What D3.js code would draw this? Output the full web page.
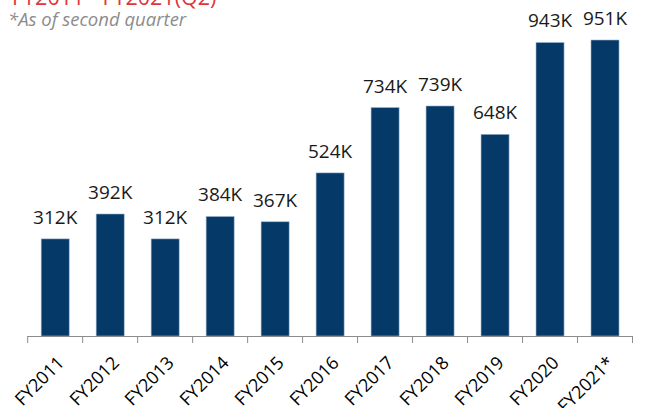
<!DOCTYPE html>
<html>
<head>
<meta charset="utf-8">
<script src="https://d3js.org/d3.v7.min.js"></script>
<style>
  body { margin: 0; background: #fff; }
  svg { display: block; font-family: "Open Sans", sans-serif; }
  .axis path, .axis line { stroke: #8c8c8c; }
</style>
</head>
<body>
<svg id="chart" width="645" height="408"></svg>
<script>
  const years = ["FY2011", "FY2012", "FY2013", "FY2014", "FY2015", "FY2016",
                 "FY2017", "FY2018", "FY2019", "FY2020", "FY2021*"];
  const values = [312, 392, 312, 384, 367, 524, 734, 739, 648, 943, 951];

  const svg = d3.select("#chart");
  const baseY = 336;

  // title is cut off at the top edge in the picture
  svg.append("text")
    .attr("x", 12).attr("y", 5)
    .attr("fill", "#e0353b")
    .attr("font-size", 21.5)
    .text("FY2011 - FY2021(Q2)");

  svg.append("text")
    .attr("x", 8).attr("y", 26)
    .attr("fill", "#8c8c8c")
    .attr("font-size", 18.5)
    .attr("font-style", "italic")
    .text("*As of second quarter");

  const x = d3.scaleBand().domain(years).range([27.7, 632.5]).padding(0);
  const y = d3.scaleLinear().domain([0, 951]).range([baseY, 40]);

  const data = years.map((d, i) => ({ year: d, value: values[i] }));
  const barW = x.bandwidth() * 0.51;

  svg.selectAll("rect.bar").data(data)
    .join("rect")
    .attr("class", "bar")
    .attr("x", d => x(d.year) + (x.bandwidth() - barW) / 2)
    .attr("y", d => y(d.value))
    .attr("width", barW)
    .attr("height", d => baseY - y(d.value))
    .attr("fill", "#053a68")
    .attr("stroke", "#9fb6cf")
    .attr("stroke-width", 0.6);

  svg.selectAll("text.val").data(data)
    .join("text")
    .attr("class", "val")
    .attr("x", d => x(d.year) + x.bandwidth() / 2)
    .attr("y", d => y(d.value) - 15)
    .attr("text-anchor", "middle")
    .attr("font-size", 19)
    .attr("fill", "#1a1a1a")
    .text(d => d.value + "K");

  // axis line with ticks on the band edges
  const axis = svg.append("g").attr("class", "axis");
  axis.append("line")
    .attr("x1", 27.7).attr("x2", 632.5)
    .attr("y1", baseY + 0.5).attr("y2", baseY + 0.5);
  const edges = years.map(d => x(d)).concat([632.5]);
  axis.selectAll("line.tick").data(edges)
    .join("line")
    .attr("class", "tick")
    .attr("x1", d => d).attr("x2", d => d)
    .attr("y1", baseY).attr("y2", baseY + 7);

  svg.selectAll("text.cat").data(years)
    .join("text")
    .attr("class", "cat")
    .attr("transform", d => `translate(${x(d) + x.bandwidth() / 2 + 10},${baseY + 28}) rotate(-45)`)
    .attr("text-anchor", "end")
    .attr("font-size", 18)
    .attr("fill", "#000")
    .text(d => d);
</script>
</body>
</html>
